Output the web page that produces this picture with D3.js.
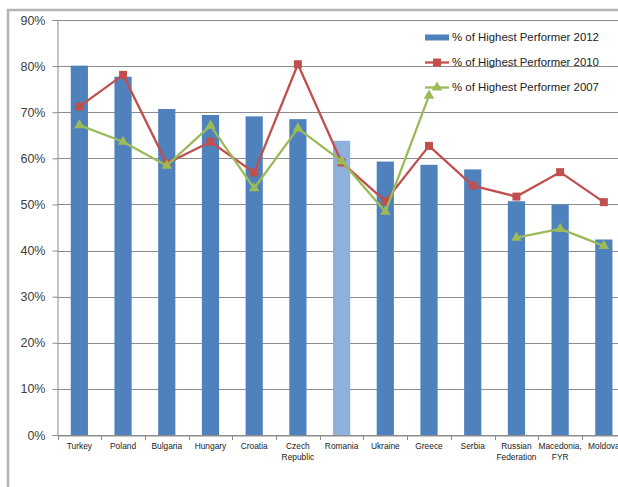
<!DOCTYPE html>
<html><head><meta charset="utf-8">
<script src="https://cdn.jsdelivr.net/npm/d3@7"></script>
<style>body{margin:0;background:#fff}svg{display:block}text{font-family:"Liberation Sans",Arial,sans-serif}</style>
</head><body><svg id="c" width="618" height="487"></svg>
<script>
const categories = ["Turkey","Poland","Bulgaria","Hungary","Croatia","Czech\nRepublic","Romania","Ukraine","Greece","Serbia","Russian\nFederation","Macedonia,\nFYR","Moldova"];
const values2012 = [80.1,77.7,70.7,69.4,69.1,68.5,63.8,59.3,58.6,57.6,50.7,50.0,42.4];
const values2010 = [71.2,78.1,58.9,63.6,56.9,80.4,59.1,50.7,62.7,54.1,51.7,57.0,50.5];
const values2007 = [67.2,63.6,58.4,67.1,53.5,66.5,59.4,48.4,73.6,null,42.8,44.7,41.0];
const highlight = "Romania";
const yTicks = [0,10,20,30,40,50,60,70,80,90];
const seriesNames = ["% of Highest Performer 2012","% of Highest Performer 2010","% of Highest Performer 2007"];

const svg = d3.select("#c");
const blue="#4F81BD", light="#8DB0DC", red="#C0504D", green="#9BBB59", grid="#8c8c8c";

// outer frame
svg.append("rect").attr("x",8).attr("y",10).attr("width",700).attr("height",490)
  .attr("fill","none").attr("stroke","#b4b4b4").attr("stroke-width",2.5);

const x = d3.scaleBand().domain(categories).range([57.5,625.7]).paddingInner(0).paddingOuter(0);
const y = d3.scaleLinear().domain([0,90]).range([435,20]);

// gridlines
svg.append("g").selectAll("line").data(yTicks).join("line")
  .attr("x1",57.5).attr("x2",618).attr("y1",d=>Math.round(y(d))+0.5).attr("y2",d=>Math.round(y(d))+0.5)
  .attr("stroke",grid).attr("stroke-width",1);

// y axis
const yAxis = d3.axisLeft(y).tickValues(yTicks).tickFormat(d=>d+"%").tickSize(5).tickPadding(7);
const gy = svg.append("g").attr("transform","translate(57.5,0)").call(yAxis);
gy.select(".domain").attr("stroke",grid);
gy.selectAll(".tick line").attr("stroke",grid);
gy.selectAll(".tick text").attr("font-size",12.5).attr("fill","#404040");

// bars
const bw = 17.2;
svg.append("g").selectAll("rect").data(categories).join("rect")
  .attr("x",(d)=>x(d)+x.bandwidth()/2-bw/2)
  .attr("width",bw)
  .attr("y",(d,i)=>y(values2012[i]))
  .attr("height",(d,i)=>y(0)-y(values2012[i]))
  .attr("fill",d=>d===highlight?light:blue);

// x axis
const xAxis = d3.axisBottom(x).tickSize(0).tickFormat("");
const gx = svg.append("g").attr("transform","translate(0,435.5)").call(xAxis);
gx.select(".domain").attr("stroke",grid);
// ticks between categories
svg.append("g").selectAll("line").data(categories).join("line")
  .attr("x1",d=>Math.round(x(d))+0.5).attr("x2",d=>Math.round(x(d))+0.5)
  .attr("y1",435).attr("y2",440).attr("stroke",grid);
// category labels
const lab = svg.append("g").selectAll("text").data(categories).join("text")
  .attr("text-anchor","middle").attr("font-size",8.4).attr("fill","#222")
  .attr("transform",d=>`translate(${x(d)+x.bandwidth()/2},449)`);
lab.each(function(d){
  const t=d3.select(this);
  d.split("\n").forEach((s,k)=>t.append("tspan").attr("x",0).attr("y",k*11).text(s));
});

// lines
function drawLine(vals,color){
  const line = d3.line().defined(d=>d!=null)
    .x((d,i)=>x(categories[i])+x.bandwidth()/2).y(d=>y(d));
  svg.append("path").datum(vals).attr("d",line).attr("fill","none")
    .attr("stroke",color).attr("stroke-width",2.3).attr("stroke-linejoin","round");
}
drawLine(values2010,red);
svg.append("g").selectAll("rect").data(values2010.map((v,i)=>({v,i})).filter(d=>d.v!=null)).join("rect")
  .attr("x",d=>x(categories[d.i])+x.bandwidth()/2-4).attr("y",d=>y(d.v)-4)
  .attr("width",8).attr("height",8).attr("fill",red);
drawLine(values2007,green);
const tri = d3.symbol().type(d3.symbolTriangle).size(48);
svg.append("g").selectAll("path").data(values2007.map((v,i)=>({v,i})).filter(d=>d.v!=null)).join("path")
  .attr("d",tri).attr("fill",green)
  .attr("transform",d=>`translate(${x(categories[d.i])+x.bandwidth()/2},${y(d.v)})`);

// legend
const lg = svg.append("g").attr("transform","translate(425,0)");
const ly = [37.5,62.5,87.5];
lg.append("rect").attr("x",0).attr("y",ly[0]-3).attr("width",24).attr("height",6).attr("fill",blue);
lg.append("line").attr("x1",0).attr("x2",24).attr("y1",ly[1]).attr("y2",ly[1]).attr("stroke",red).attr("stroke-width",2.3);
lg.append("rect").attr("x",8).attr("y",ly[1]-4).attr("width",8).attr("height",8).attr("fill",red);
lg.append("line").attr("x1",0).attr("x2",24).attr("y1",ly[2]).attr("y2",ly[2]).attr("stroke",green).attr("stroke-width",2.3);
lg.append("path").attr("d",tri).attr("fill",green).attr("transform",`translate(12,${ly[2]})`);
lg.selectAll("text.l").data(seriesNames).join("text").attr("class","l")
  .attr("x",27).attr("y",(d,i)=>ly[i]).attr("dy","0.35em").attr("font-size",11.4).attr("fill","#222")
  .text(d=>d);
</script></body></html>
